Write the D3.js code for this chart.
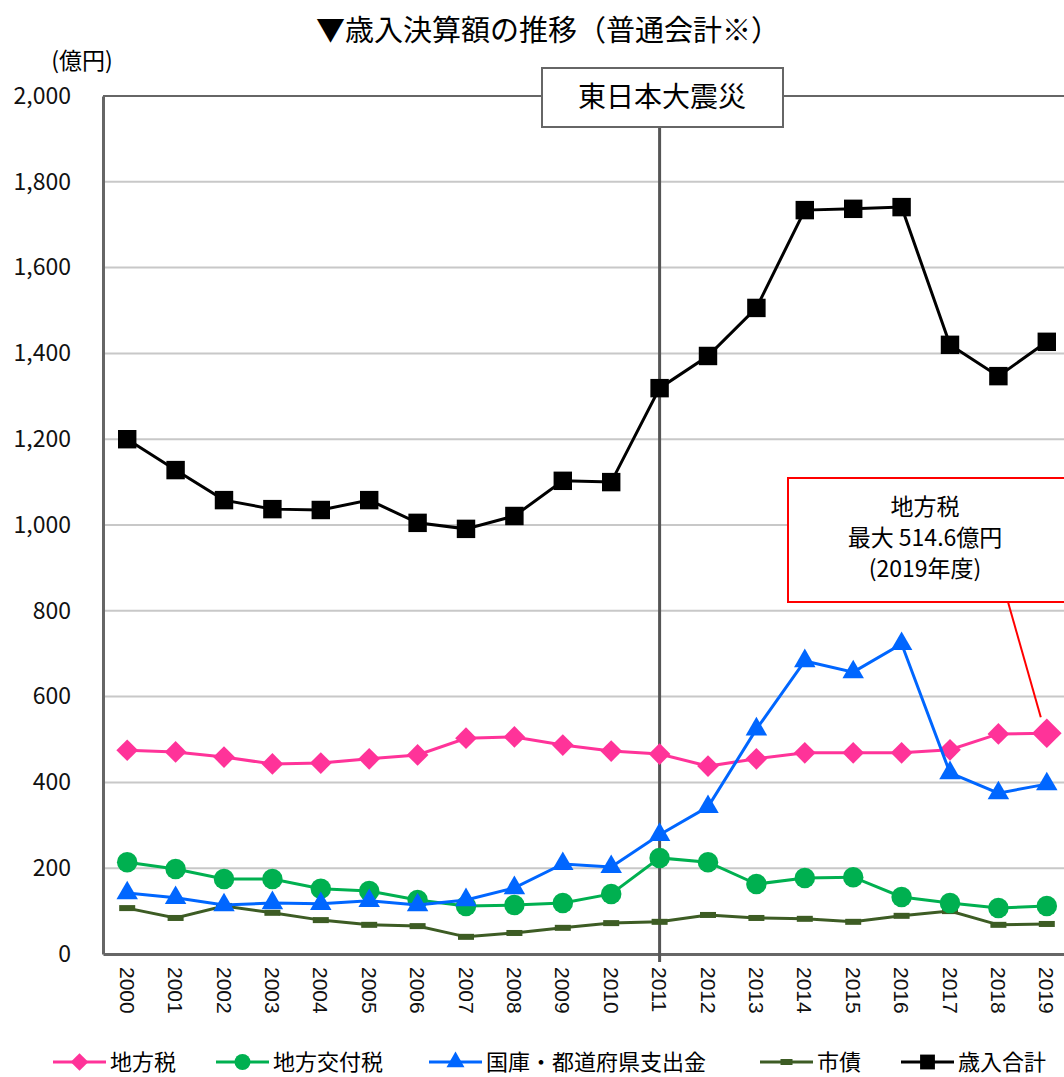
<!DOCTYPE html>
<html>
<head>
<meta charset="utf-8">
<script src="https://cdn.jsdelivr.net/npm/d3@7"></script>
<style>
  body { margin: 0; background: #fff; }
  svg { display: block; font-family: "Noto Sans CJK JP", "Noto Sans", sans-serif; }
  .grid line { stroke: #c8c8c8; stroke-width: 2; }
  .y.axis text, .x.axis text { fill: #111; }
</style>
</head>
<body>
<script>
// data
const years = ['2000','2001','2002','2003','2004','2005','2006','2007','2008','2009',
               '2010','2011','2012','2013','2014','2015','2016','2017','2018','2019']
const chihouzei = [475,471,459,443,445,455,464,503,506,487,473,466,438,455,469,469,469,476,513,514.6]
const koufuzei  = [214,198,175,175,152,147,126,112,114,119,140,224,214,163,177,179,133,119,107,112]
const shishutsu = [142,131,114,119,117,124,114,126,154,210,203,278,343,524,683,657,723,422,375,396]
const shisai    = [107,84,112,96,79,68,65,40,49,61,72,75,91,84,82,75,89,100,68,70]
const total     = [1200,1128,1058,1037,1035,1058,1005,991,1021,1103,1100,1319,1394,1506,1734,1737,1741,1420,1347,1427]
const yTicks = [0,200,400,600,800,1000,1200,1400,1600,1800,2000]

const series = [
  { name: '地方税', values: chihouzei, color: '#ff3399', marker: 'diamond' },
  { name: '地方交付税', values: koufuzei, color: '#00b050', marker: 'circle' },
  { name: '国庫・都道府県支出金', values: shishutsu, color: '#0066ff', marker: 'triangle' },
  { name: '市債', values: shisai, color: '#3d5c24', marker: 'dash' },
  { name: '歳入合計', values: total, color: '#000000', marker: 'square' }
]

const W = 1064, H = 1077
const PLOT = { left: 103, top: 96, bottom: 954 }
const STEP = 48.4

let svg = d3.select('body').append('svg')
  .attr('width', W).attr('height', H)

let x = d3.scaleBand()
  .domain(years)
  .range([PLOT.left, PLOT.left + STEP * years.length])
  .padding(0)
let cx = (d) => x(d) + x.bandwidth() / 2

let y = d3.scaleLinear()
  .domain([0, 2000])
  .range([PLOT.bottom, PLOT.top])

// title
svg.append('text')
  .attr('x', 548).attr('y', 41)
  .attr('text-anchor', 'middle')
  .style('font-size', '29px')
  .text('▼歳入決算額の推移（普通会計※）')

svg.append('text')
  .attr('x', 82).attr('y', 69)
  .attr('text-anchor', 'middle')
  .style('font-size', '23px')
  .text('(億円)')

// gridlines
svg.append('g').attr('class', 'grid')
  .selectAll('line')
  .data(yTicks.slice(1))
  .enter().append('line')
    .attr('x1', PLOT.left).attr('x2', W)
    .attr('y1', (d) => y(d)).attr('y2', (d) => y(d))
    .style('stroke', (d) => d === 2000 ? '#666' : null)

// y axis
let yAxis = svg.append('g')
  .attr('class', 'y axis')
  .attr('transform', 'translate(' + PLOT.left + ',0)')
  .call(d3.axisLeft(y).tickValues(yTicks).tickSize(0).tickPadding(30).tickFormat(d3.format(',')))
yAxis.select('.domain').attr('stroke', '#666').attr('stroke-width', 3)
yAxis.selectAll('text')
  .style('font-size', '23px')
  .style('font-family', '"Noto Sans CJK JP", sans-serif')
  .attr('text-anchor', 'end')
  .attr('x', -32)

// x axis
let xAxis = svg.append('g')
  .attr('class', 'x axis')
  .attr('transform', 'translate(0,' + PLOT.bottom + ')')
  .call(d3.axisBottom(x).tickSize(0).tickPadding(0))
xAxis.select('.domain').attr('stroke', '#666').attr('stroke-width', 3)
xAxis.selectAll('text')
  .style('font-size', '21px')
  .attr('text-anchor', 'start')
  .attr('transform', 'rotate(90)')
  .attr('x', 13).attr('y', 0).attr('dy', '0.35em')

// 2011 marker line and label
svg.append('line')
  .attr('x1', cx('2011')).attr('x2', cx('2011'))
  .attr('y1', 127).attr('y2', PLOT.bottom + 8)
  .attr('stroke', '#555').attr('stroke-width', 3)
svg.append('rect')
  .attr('x', 542).attr('y', 68).attr('width', 241).attr('height', 59)
  .attr('fill', '#fff').attr('stroke', '#666').attr('stroke-width', 2)
svg.append('text')
  .attr('x', 662).attr('y', 107)
  .attr('text-anchor', 'middle')
  .style('font-size', '28px')
  .text('東日本大震災')

// marker shapes
const symbols = {
  diamond: d3.symbol().type(d3.symbolDiamond2).size(260),
  circle: d3.symbol().type(d3.symbolCircle).size(330),
  triangle: d3.symbol().type(d3.symbolTriangle).size(200),
  square: d3.symbol().type(d3.symbolSquare).size(340)
}
function drawMarker(sel, s, big) {
  if (s.marker === 'dash') {
    sel.append('rect')
      .attr('x', -8).attr('y', -3).attr('width', 16).attr('height', 6)
      .attr('fill', s.color)
  } else if (s.marker === 'diamond') {
    sel.append('path')
      .attr('d', d3.symbol().type(d3.symbolDiamond2).size(big ? 560 : 300)())
      .attr('fill', s.color)
  } else {
    sel.append('path')
      .attr('d', symbols[s.marker]())
      .attr('fill', s.color)
  }
}

let line = d3.line()
  .x((d, i) => cx(years[i]))
  .y((d) => y(d))

// draw order: 歳入合計, 地方税, 市債, 地方交付税, 国庫
let order = [4, 0, 3, 1, 2]
order.forEach(function(k) {
  let s = series[k]
  let g = svg.append('g').attr('class', 'series')
  g.append('path')
    .attr('d', line(s.values))
    .attr('fill', 'none')
    .attr('stroke', s.color)
    .attr('stroke-width', 3)
  g.selectAll('.pt')
    .data(s.values)
    .enter().append('g')
      .attr('class', 'pt')
      .attr('transform', (d, i) => 'translate(' + [cx(years[i]), y(d)] + ')')
      .each(function(d, i) {
        drawMarker(d3.select(this), s, s.marker === 'diamond' && i === years.length - 1)
      })
})

// callout for 地方税 max
svg.append('line')
  .attr('x1', 1008).attr('y1', 602)
  .attr('x2', cx('2019') - 6).attr('y2', y(514.6) - 16)
  .attr('stroke', '#ff0000').attr('stroke-width', 2)
svg.append('rect')
  .attr('x', 788).attr('y', 478).attr('width', 290).attr('height', 124)
  .attr('fill', '#fff').attr('stroke', '#ff0000').attr('stroke-width', 2)
let callout = svg.append('text')
  .attr('text-anchor', 'middle')
  .style('font-size', '23px')
;['地方税', '最大  514.6億円', '(2019年度)'].forEach(function(t, i) {
  callout.append('tspan')
    .attr('x', 925).attr('y', 515 + i * 31)
    .text(t)
})

// legend
const legendX = [53, 216, 429, 760, 901]
let legend = svg.append('g').attr('class', 'legend')
series.forEach(function(s, i) {
  let g = legend.append('g')
    .attr('transform', 'translate(' + [legendX[i], 1062] + ')')
  g.append('line')
    .attr('x1', 0).attr('x2', 53)
    .attr('stroke', s.color).attr('stroke-width', 3)
  let m = g.append('g').attr('transform', 'translate(26.5,0)')
  if (s.marker === 'dash') {
    m.append('rect').attr('x', -6).attr('y', -3).attr('width', 12).attr('height', 6).attr('fill', s.color)
  } else {
    let size = { diamond: 200, circle: 200, triangle: 140, square: 220 }[s.marker]
    m.append('path')
      .attr('d', d3.symbol().type({ diamond: d3.symbolDiamond2, circle: d3.symbolCircle,
        triangle: d3.symbolTriangle, square: d3.symbolSquare }[s.marker]).size(size)())
      .attr('fill', s.color)
  }
  g.append('text')
    .attr('x', 57).attr('y', 0).attr('dy', '0.35em')
    .style('font-size', '22px')
    .text(s.name)
})
</script>
</body>
</html>
